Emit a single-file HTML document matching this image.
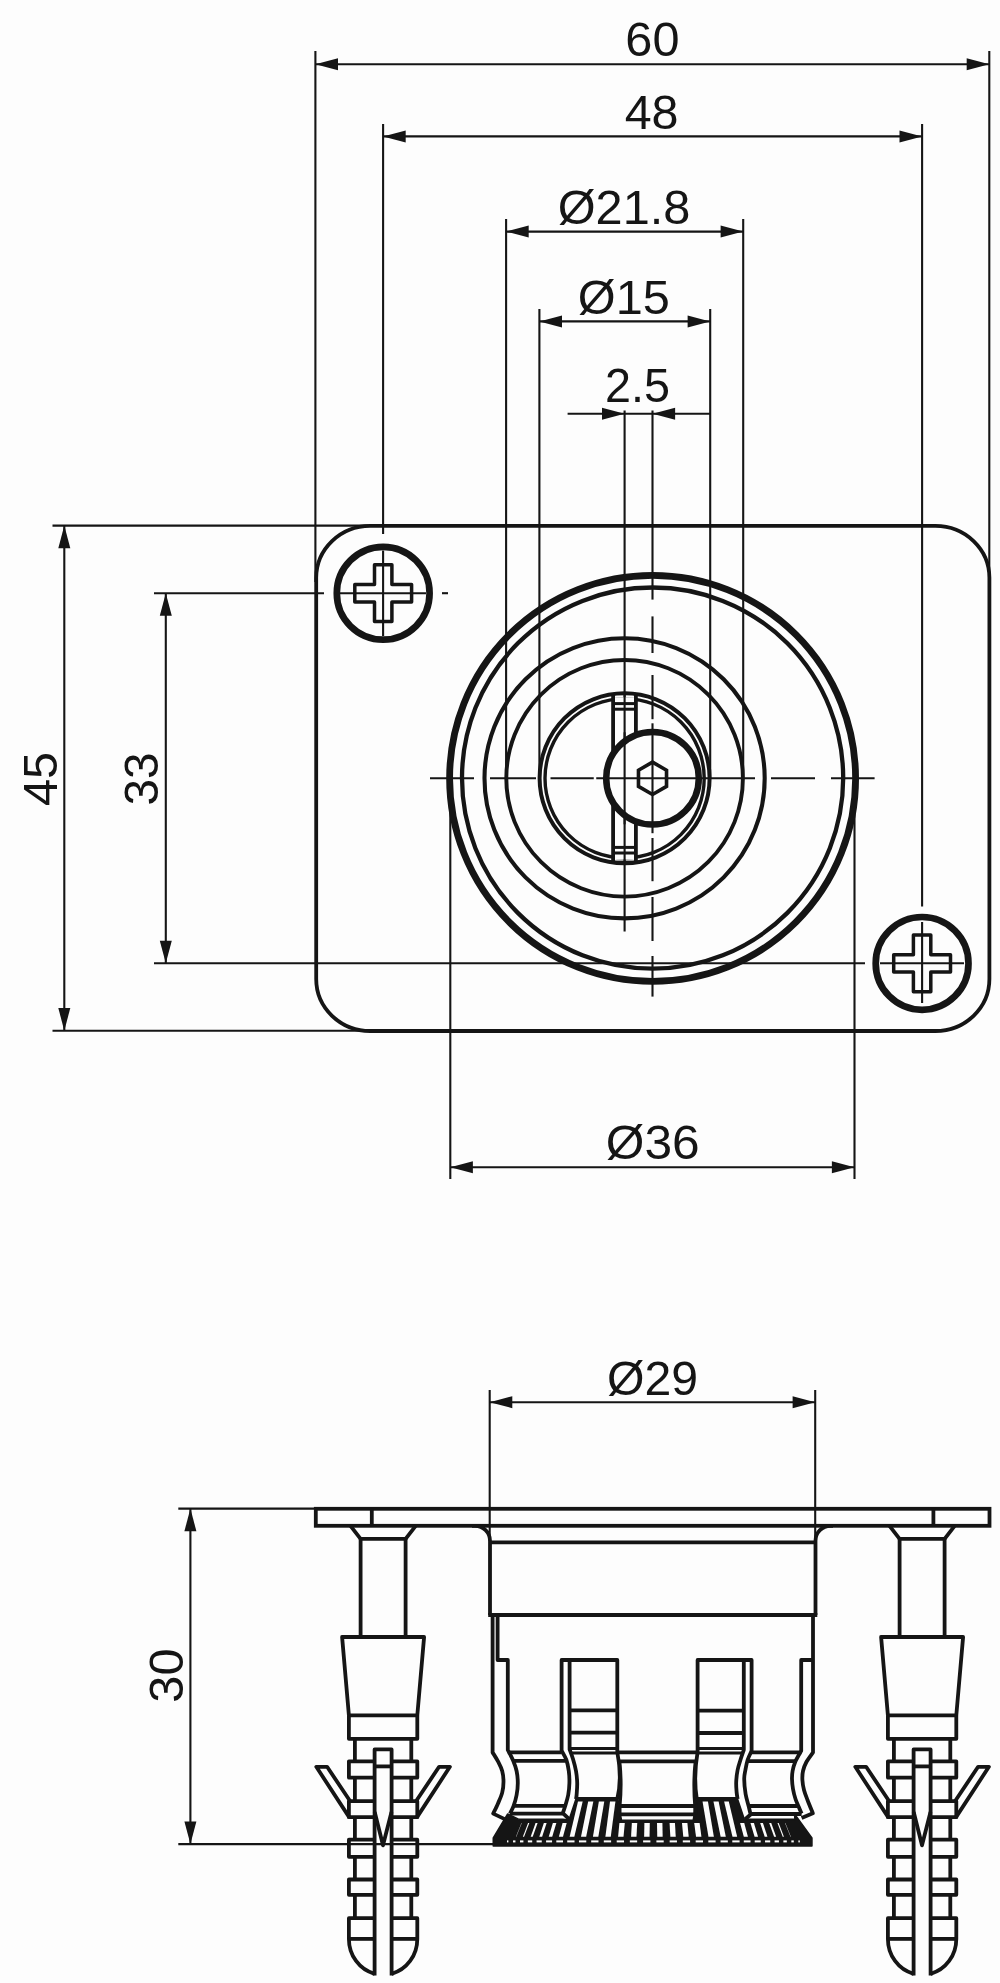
<!DOCTYPE html>
<html lang="en"><head><meta charset="utf-8"><title>Dimensional drawing</title>
<style>
html,body{margin:0;padding:0;background:#fdfdfd}
body{width:1000px;height:1983px;overflow:hidden}
svg{display:block}
svg text{font-family:"Liberation Sans",sans-serif;filter:grayscale(1)}
</style></head><body>
<svg width="1000" height="1983" viewBox="0 0 1000 1983" fill="none" stroke="#151515">
<rect x="0" y="0" width="1000" height="1983" fill="#fdfdfd" stroke="none"/>
<g id="top-view">
<line x1="315.4" y1="51" x2="315.4" y2="582" stroke-width="2.1"/>
<line x1="989.3" y1="51" x2="989.3" y2="582" stroke-width="2.1"/>
<line x1="383.1" y1="124" x2="383.1" y2="534" stroke-width="2.1"/>
<line x1="383.1" y1="550.5" x2="383.1" y2="636" stroke-width="2.1"/>
<line x1="922.1" y1="124" x2="922.1" y2="906.4" stroke-width="2.1"/>
<line x1="922.1" y1="922" x2="922.1" y2="1003" stroke-width="2.1"/>
<line x1="506.1" y1="219" x2="506.1" y2="778.3" stroke-width="2.1"/>
<line x1="743.2" y1="219" x2="743.2" y2="778.3" stroke-width="2.1"/>
<line x1="539.4" y1="309" x2="539.4" y2="778.3" stroke-width="2.1"/>
<line x1="710.2" y1="309" x2="710.2" y2="778.3" stroke-width="2.1"/>
<line x1="624.6" y1="410.5" x2="624.6" y2="931.6" stroke-width="2.1"/>
<line x1="652.5" y1="410.5" x2="652.5" y2="599.6" stroke-width="2.1"/>
<line x1="652.5" y1="616.4" x2="652.5" y2="653" stroke-width="2.1"/>
<line x1="652.5" y1="675" x2="652.5" y2="719.2" stroke-width="2.1"/>
<line x1="652.5" y1="723.3" x2="652.5" y2="833.2" stroke-width="2.1"/>
<line x1="652.5" y1="838" x2="652.5" y2="881.2" stroke-width="2.1"/>
<line x1="652.5" y1="897" x2="652.5" y2="941" stroke-width="2.1"/>
<line x1="652.5" y1="956" x2="652.5" y2="996.6" stroke-width="2.1"/>
<line x1="315.4" y1="64.2" x2="989.3" y2="64.2" stroke-width="2.1"/>
<polygon points="315.4,64.2 338,58.2 338,70.2" fill="#151515" stroke="none"/>
<polygon points="989.3,64.2 966.7,70.2 966.7,58.2" fill="#151515" stroke="none"/>
<line x1="383.1" y1="136.4" x2="922.1" y2="136.4" stroke-width="2.1"/>
<polygon points="383.1,136.4 405.7,130.4 405.7,142.4" fill="#151515" stroke="none"/>
<polygon points="922.1,136.4 899.5,142.4 899.5,130.4" fill="#151515" stroke="none"/>
<line x1="506.1" y1="231.6" x2="743.2" y2="231.6" stroke-width="2.1"/>
<polygon points="506.1,231.6 528.7,225.6 528.7,237.6" fill="#151515" stroke="none"/>
<polygon points="743.2,231.6 720.6,237.6 720.6,225.6" fill="#151515" stroke="none"/>
<line x1="539.4" y1="321.4" x2="710.2" y2="321.4" stroke-width="2.1"/>
<polygon points="539.4,321.4 562,315.4 562,327.4" fill="#151515" stroke="none"/>
<polygon points="710.2,321.4 687.6,327.4 687.6,315.4" fill="#151515" stroke="none"/>
<line x1="567.6" y1="413.8" x2="710.2" y2="413.8" stroke-width="2.1"/>
<polygon points="624.6,413.8 602,419.8 602,407.8" fill="#151515" stroke="none"/>
<polygon points="652.5,413.8 675.1,407.8 675.1,419.8" fill="#151515" stroke="none"/>
<line x1="430" y1="778.3" x2="474" y2="778.3" stroke-width="2.1"/>
<line x1="490" y1="778.3" x2="536" y2="778.3" stroke-width="2.1"/>
<line x1="550.5" y1="778.3" x2="593.75" y2="778.3" stroke-width="2.1"/>
<line x1="596.25" y1="778.3" x2="755" y2="778.3" stroke-width="2.1"/>
<line x1="771" y1="778.3" x2="815" y2="778.3" stroke-width="2.1"/>
<line x1="831" y1="778.3" x2="874.6" y2="778.3" stroke-width="2.1"/>
<line x1="154" y1="593.2" x2="324" y2="593.2" stroke-width="2.1"/>
<line x1="340" y1="593.2" x2="426" y2="593.2" stroke-width="2.1"/>
<line x1="442" y1="593.2" x2="448" y2="593.2" stroke-width="2.1"/>
<line x1="154" y1="963.3" x2="865" y2="963.3" stroke-width="2.1"/>
<line x1="880" y1="963.3" x2="964" y2="963.3" stroke-width="2.1"/>
<line x1="52.5" y1="525.6" x2="372" y2="525.6" stroke-width="2.1"/>
<line x1="52.5" y1="1030.7" x2="372" y2="1030.7" stroke-width="2.1"/>
<line x1="64.3" y1="525.6" x2="64.3" y2="1030.7" stroke-width="2.1"/>
<polygon points="64.3,525.6 70.3,548.2 58.3,548.2" fill="#151515" stroke="none"/>
<polygon points="64.3,1030.7 58.3,1008.1 70.3,1008.1" fill="#151515" stroke="none"/>
<line x1="165.8" y1="593.2" x2="165.8" y2="963.3" stroke-width="2.1"/>
<polygon points="165.8,593.2 171.8,615.8 159.8,615.8" fill="#151515" stroke="none"/>
<polygon points="165.8,963.3 159.8,940.7 171.8,940.7" fill="#151515" stroke="none"/>
<line x1="450.3" y1="778.3" x2="450.3" y2="1179" stroke-width="2.1"/>
<line x1="854.5" y1="778.3" x2="854.5" y2="1179" stroke-width="2.1"/>
<line x1="450.3" y1="1167.3" x2="854.5" y2="1167.3" stroke-width="2.1"/>
<polygon points="450.3,1167.3 472.9,1161.3 472.9,1173.3" fill="#151515" stroke="none"/>
<polygon points="854.5,1167.3 831.9,1173.3 831.9,1161.3" fill="#151515" stroke="none"/>
<rect x="316.2" y="525.8" width="673.2" height="505.2" rx="54" ry="52" stroke-width="3.8"/>
<circle cx="383.2" cy="593.2" r="46.4" stroke-width="6.7"/>
<path d="M374.5 564.8 L391.9 564.8 L391.9 584.5 L411.6 584.5 L411.6 601.9 L391.9 601.9 L391.9 621.6 L374.5 621.6 L374.5 601.9 L354.8 601.9 L354.8 584.5 L374.5 584.5 Z" stroke-width="3.5" fill="none" stroke-linejoin="round" stroke-linecap="butt"/>
<circle cx="922.1" cy="963.4" r="46.4" stroke-width="6.7"/>
<path d="M913.4 935 L930.8 935 L930.8 954.7 L950.5 954.7 L950.5 972.1 L930.8 972.1 L930.8 991.8 L913.4 991.8 L913.4 972.1 L893.7 972.1 L893.7 954.7 L913.4 954.7 Z" stroke-width="3.5" fill="none" stroke-linejoin="round" stroke-linecap="butt"/>
<circle cx="652.6" cy="778.4" r="203" stroke-width="6.8"/>
<circle cx="652.6" cy="778.1" r="190.6" stroke-width="4.3"/>
<circle cx="624.6" cy="778.3" r="140.1" stroke-width="4.1"/>
<circle cx="624.6" cy="778.3" r="118.3" stroke-width="3.9"/>
<circle cx="624.6" cy="778.3" r="85" stroke-width="4"/>
<circle cx="624.6" cy="778.3" r="79.6" stroke-width="3.4"/>
<rect x="613.1" y="697.2" width="22.8" height="162.2" fill="#fdfdfd" stroke="none"/>
<path d="M613.1 694.5 V862.3 M635.9 694.5 V862.3" stroke-width="3.8" fill="none" stroke-linejoin="miter" stroke-linecap="butt"/>
<line x1="624.6" y1="693" x2="624.6" y2="864" stroke-width="2.1"/>
<line x1="613.1" y1="703.6" x2="635.9" y2="703.6" stroke-width="3"/>
<line x1="613.1" y1="709.2" x2="635.9" y2="709.2" stroke-width="3"/>
<line x1="613.1" y1="853" x2="635.9" y2="853" stroke-width="3"/>
<line x1="613.1" y1="847.4" x2="635.9" y2="847.4" stroke-width="3"/>
<line x1="611.2" y1="862.3" x2="637.8" y2="862.3" stroke-width="3.4"/>
<circle cx="652.5" cy="778.3" r="46.3" stroke-width="6.5" fill="#fdfdfd"/>
<line x1="624.6" y1="732.3" x2="624.6" y2="824.3" stroke-width="2.1"/>
<line x1="652.5" y1="732.3" x2="652.5" y2="824.3" stroke-width="2.1"/>
<line x1="606" y1="778.3" x2="699" y2="778.3" stroke-width="2.1"/>
<path d="M652.5 762.1 L666.53 770.2 L666.53 786.4 L652.5 794.5 L638.47 786.4 L638.47 770.2 Z" stroke-width="3.6" fill="none" stroke-linejoin="miter" stroke-linecap="butt"/>
<text transform="translate(652.4 56.3) scale(1.01 1)" font-size="48.2" text-anchor="middle" fill="#151515" stroke="none">60</text>
<text transform="translate(651.6 129) scale(1.005 1)" font-size="48.2" text-anchor="middle" fill="#151515" stroke="none">48</text>
<text transform="translate(624 224.2) scale(1.01 1)" font-size="48.2" text-anchor="middle" fill="#151515" stroke="none">&#216;21.8</text>
<text transform="translate(623.8 314.2) scale(1.01 1)" font-size="48.2" text-anchor="middle" fill="#151515" stroke="none">&#216;15</text>
<text transform="translate(637.5 402) scale(1 1.0309)" font-size="46.75" text-anchor="middle" fill="#151515" stroke="none">2.5</text>
<text transform="translate(652.7 1159) scale(1.03 1)" font-size="48.2" text-anchor="middle" fill="#151515" stroke="none">&#216;36</text>
<text transform="translate(57.3 779) rotate(-90) scale(1.01 1)" font-size="48.2" text-anchor="middle" fill="#151515" stroke="none">45</text>
<text transform="translate(158.3 779) rotate(-90) scale(1 1.0101)" font-size="47.72" text-anchor="middle" fill="#151515" stroke="none">33</text>
</g>
<g id="side-view">
<line x1="178.3" y1="1508.6" x2="316" y2="1508.6" stroke-width="2.1"/>
<line x1="178.3" y1="1844.1" x2="497" y2="1844.1" stroke-width="2.1"/>
<line x1="190.4" y1="1508.6" x2="190.4" y2="1844.1" stroke-width="2.1"/>
<polygon points="190.4,1508.6 196.4,1531.2 184.4,1531.2" fill="#151515" stroke="none"/>
<polygon points="190.4,1844.1 184.4,1821.5 196.4,1821.5" fill="#151515" stroke="none"/>
<line x1="489.7" y1="1390" x2="489.7" y2="1541" stroke-width="2.1"/>
<line x1="815.2" y1="1390" x2="815.2" y2="1541" stroke-width="2.1"/>
<line x1="489.7" y1="1402.2" x2="815.2" y2="1402.2" stroke-width="2.1"/>
<polygon points="489.7,1402.2 512.3,1396.2 512.3,1408.2" fill="#151515" stroke="none"/>
<polygon points="815.2,1402.2 792.6,1408.2 792.6,1396.2" fill="#151515" stroke="none"/>
<text transform="translate(652.5 1395)" font-size="48.2" text-anchor="middle" fill="#151515" stroke="none">&#216;29</text>
<text transform="translate(183.3 1675.6) rotate(-90) scale(1.01 1)" font-size="48.2" text-anchor="middle" fill="#151515" stroke="none">30</text>
<polygon points="493.3,1838 507.7,1814 519,1819.4 563,1819.4 569,1820 576,1799 617.5,1799 621.5,1820.4 693.2,1820.4 697,1799 737.5,1799 744.5,1820 750,1819.4 795,1819.4 794.5,1814 811.9,1838 811.9,1846 493.3,1846" fill="#151515" stroke="#151515" stroke-width="1.6" stroke-linejoin="round"/>
<polygon points="657,1823 662.4,1823 662.66,1836.8 657.26,1836.8" fill="#fdfdfd" stroke="none"/>
<rect x="656.4" y="1840.4" width="7.3" height="2" fill="#fdfdfd" stroke="none"/>
<polygon points="644.4,1823 649.8,1823 649.54,1836.8 644.14,1836.8" fill="#fdfdfd" stroke="none"/>
<rect x="643.1" y="1840.4" width="7.3" height="2" fill="#fdfdfd" stroke="none"/>
<polygon points="669.56,1823 674.96,1823 675.74,1836.8 670.34,1836.8" fill="#fdfdfd" stroke="none"/>
<rect x="669.66" y="1840.4" width="7.3" height="2" fill="#fdfdfd" stroke="none"/>
<polygon points="631.84,1823 637.24,1823 636.46,1836.8 631.06,1836.8" fill="#fdfdfd" stroke="none"/>
<rect x="629.84" y="1840.4" width="7.3" height="2" fill="#fdfdfd" stroke="none"/>
<polygon points="681.99,1823 687.39,1823 688.7,1836.8 683.3,1836.8" fill="#fdfdfd" stroke="none"/>
<rect x="682.79" y="1840.4" width="7.3" height="2" fill="#fdfdfd" stroke="none"/>
<polygon points="619.41,1823 624.81,1823 623.5,1836.8 618.1,1836.8" fill="#fdfdfd" stroke="none"/>
<rect x="616.71" y="1840.4" width="7.3" height="2" fill="#fdfdfd" stroke="none"/>
<polygon points="694.21,1823 699.61,1823 701.43,1836.8 696.03,1836.8" fill="#fdfdfd" stroke="none"/>
<rect x="695.7" y="1840.4" width="7.3" height="2" fill="#fdfdfd" stroke="none"/>
<polygon points="610.02,1801.5 615.42,1801.5 610.77,1836.8 605.37,1836.8" fill="#fdfdfd" stroke="none"/>
<rect x="603.8" y="1840.4" width="7.3" height="2" fill="#fdfdfd" stroke="none"/>
<polygon points="702.54,1801.5 707.94,1801.5 713.87,1836.8 708.47,1836.8" fill="#fdfdfd" stroke="none"/>
<rect x="708.31" y="1840.4" width="7.3" height="2" fill="#fdfdfd" stroke="none"/>
<polygon points="598.86,1801.5 604.26,1801.5 598.33,1836.8 592.93,1836.8" fill="#fdfdfd" stroke="none"/>
<rect x="591.19" y="1840.4" width="7.3" height="2" fill="#fdfdfd" stroke="none"/>
<polygon points="713.47,1801.5 718.63,1801.5 725.81,1836.8 720.64,1836.8" fill="#fdfdfd" stroke="none"/>
<rect x="720.53" y="1840.4" width="7.3" height="2" fill="#fdfdfd" stroke="none"/>
<polygon points="588.17,1801.5 593.33,1801.5 586.16,1836.8 580.99,1836.8" fill="#fdfdfd" stroke="none"/>
<rect x="578.97" y="1840.4" width="7.3" height="2" fill="#fdfdfd" stroke="none"/>
<polygon points="724.12,1801.5 728.79,1801.5 737.16,1836.8 732.48,1836.8" fill="#fdfdfd" stroke="none"/>
<rect x="732.28" y="1840.4" width="7.3" height="2" fill="#fdfdfd" stroke="none"/>
<polygon points="578.01,1801.5 582.68,1801.5 574.32,1836.8 569.64,1836.8" fill="#fdfdfd" stroke="none"/>
<rect x="567.22" y="1840.4" width="7.3" height="2" fill="#fdfdfd" stroke="none"/>
<polygon points="740.11,1823 744.22,1823 747.93,1836.8 743.82,1836.8" fill="#fdfdfd" stroke="none"/>
<rect x="743.79" y="1840.4" width="6.71" height="2" fill="#fdfdfd" stroke="none"/>
<polygon points="562.58,1823 566.69,1823 562.98,1836.8 558.87,1836.8" fill="#fdfdfd" stroke="none"/>
<rect x="556.3" y="1840.4" width="6.71" height="2" fill="#fdfdfd" stroke="none"/>
<polygon points="750.45,1823 753.93,1823 758.06,1836.8 754.58,1836.8" fill="#fdfdfd" stroke="none"/>
<rect x="754.73" y="1840.4" width="5.99" height="2" fill="#fdfdfd" stroke="none"/>
<polygon points="552.87,1823 556.35,1823 552.22,1836.8 548.74,1836.8" fill="#fdfdfd" stroke="none"/>
<rect x="546.07" y="1840.4" width="5.99" height="2" fill="#fdfdfd" stroke="none"/>
<polygon points="760.17,1823 762.95,1823 767.48,1836.8 764.7,1836.8" fill="#fdfdfd" stroke="none"/>
<rect x="765.03" y="1840.4" width="5.2" height="2" fill="#fdfdfd" stroke="none"/>
<polygon points="543.85,1823 546.63,1823 542.1,1836.8 539.32,1836.8" fill="#fdfdfd" stroke="none"/>
<rect x="536.57" y="1840.4" width="5.2" height="2" fill="#fdfdfd" stroke="none"/>
<polygon points="769.21,1823 771.23,1823 776.12,1836.8 774.1,1836.8" fill="#fdfdfd" stroke="none"/>
<rect x="774.6" y="1840.4" width="4.34" height="2" fill="#fdfdfd" stroke="none"/>
<polygon points="535.57,1823 537.59,1823 532.7,1836.8 530.68,1836.8" fill="#fdfdfd" stroke="none"/>
<rect x="527.86" y="1840.4" width="4.34" height="2" fill="#fdfdfd" stroke="none"/>
<polygon points="777.5,1823 778.71,1823 783.93,1836.8 782.72,1836.8" fill="#fdfdfd" stroke="none"/>
<rect x="783.4" y="1840.4" width="3.41" height="2" fill="#fdfdfd" stroke="none"/>
<polygon points="528.09,1823 529.3,1823 524.08,1836.8 522.87,1836.8" fill="#fdfdfd" stroke="none"/>
<rect x="519.99" y="1840.4" width="3.41" height="2" fill="#fdfdfd" stroke="none"/>
<polygon points="785,1823 785.34,1823 790.86,1836.8 790.51,1836.8" fill="#fdfdfd" stroke="none"/>
<rect x="791.35" y="1840.4" width="2.43" height="2" fill="#fdfdfd" stroke="none"/>
<polygon points="521.46,1823 521.8,1823 516.29,1836.8 515.94,1836.8" fill="#fdfdfd" stroke="none"/>
<rect x="513.02" y="1840.4" width="2.43" height="2" fill="#fdfdfd" stroke="none"/>
<rect x="798.4" y="1840.4" width="1.4" height="2" fill="#fdfdfd" stroke="none"/>
<rect x="507" y="1840.4" width="1.4" height="2" fill="#fdfdfd" stroke="none"/>
<rect x="315.8" y="1508.8" width="673.7" height="17" stroke-width="3.8"/>
<line x1="371.8" y1="1508.8" x2="371.8" y2="1525.8" stroke-width="3.8"/>
<line x1="933.4" y1="1508.8" x2="933.4" y2="1525.8" stroke-width="3.8"/>
<path d="M350.5 1525.8 L360.6 1538.8 L405.6 1538.8 L415.7 1525.8" stroke-width="3.8" fill="none" stroke-linejoin="miter" stroke-linecap="butt"/>
<line x1="360.6" y1="1538.8" x2="360.6" y2="1637" stroke-width="3.8"/>
<line x1="405.6" y1="1538.8" x2="405.6" y2="1637" stroke-width="3.8"/>
<path d="M342.1 1637 L424.1 1637 L417.3 1715.4 L348.9 1715.4 Z" stroke-width="3.8" fill="none" stroke-linejoin="round" stroke-linecap="butt"/>
<path d="M348.9 1715.4 L348.9 1738.8 L417.3 1738.8 L417.3 1715.4" stroke-width="3.8" fill="none" stroke-linejoin="round" stroke-linecap="butt"/>
<line x1="354.9" y1="1738.8" x2="354.9" y2="1761.3" stroke-width="3.8"/>
<line x1="411.3" y1="1738.8" x2="411.3" y2="1761.3" stroke-width="3.8"/>
<line x1="354.9" y1="1777.6" x2="354.9" y2="1801.2" stroke-width="3.8"/>
<line x1="411.3" y1="1777.6" x2="411.3" y2="1801.2" stroke-width="3.8"/>
<line x1="354.9" y1="1817.2" x2="354.9" y2="1839.7" stroke-width="3.8"/>
<line x1="411.3" y1="1817.2" x2="411.3" y2="1839.7" stroke-width="3.8"/>
<line x1="354.9" y1="1856.8" x2="354.9" y2="1879.5" stroke-width="3.8"/>
<line x1="411.3" y1="1856.8" x2="411.3" y2="1879.5" stroke-width="3.8"/>
<line x1="354.9" y1="1894.8" x2="354.9" y2="1918.2" stroke-width="3.8"/>
<line x1="411.3" y1="1894.8" x2="411.3" y2="1918.2" stroke-width="3.8"/>
<path d="M374.6 1761.3 L348.9 1761.3 L348.9 1777.6 L374.6 1777.6" stroke-width="3.8" fill="none" stroke-linejoin="round" stroke-linecap="butt"/>
<path d="M391.6 1761.3 L417.3 1761.3 L417.3 1777.6 L391.6 1777.6" stroke-width="3.8" fill="none" stroke-linejoin="round" stroke-linecap="butt"/>
<path d="M374.6 1801.2 L348.9 1801.2 L348.9 1817.2 L374.6 1817.2" stroke-width="3.8" fill="none" stroke-linejoin="round" stroke-linecap="butt"/>
<path d="M391.6 1801.2 L417.3 1801.2 L417.3 1817.2 L391.6 1817.2" stroke-width="3.8" fill="none" stroke-linejoin="round" stroke-linecap="butt"/>
<path d="M374.6 1839.7 L348.9 1839.7 L348.9 1856.8 L374.6 1856.8" stroke-width="3.8" fill="none" stroke-linejoin="round" stroke-linecap="butt"/>
<path d="M391.6 1839.7 L417.3 1839.7 L417.3 1856.8 L391.6 1856.8" stroke-width="3.8" fill="none" stroke-linejoin="round" stroke-linecap="butt"/>
<path d="M374.6 1879.5 L348.9 1879.5 L348.9 1894.8 L374.6 1894.8" stroke-width="3.8" fill="none" stroke-linejoin="round" stroke-linecap="butt"/>
<path d="M391.6 1879.5 L417.3 1879.5 L417.3 1894.8 L391.6 1894.8" stroke-width="3.8" fill="none" stroke-linejoin="round" stroke-linecap="butt"/>
<path d="M374.6 1918.2 H348.9 V1938.9 A34.2 36 0 0 0 374.6 1973.8" stroke-width="3.8" fill="none" stroke-linejoin="round" stroke-linecap="butt"/>
<line x1="348.9" y1="1938.9" x2="374.6" y2="1938.9" stroke-width="3.8"/>
<path d="M391.6 1918.2 H417.3 V1938.9 A34.2 36 0 0 1 391.6 1973.8" stroke-width="3.8" fill="none" stroke-linejoin="round" stroke-linecap="butt"/>
<line x1="391.6" y1="1938.9" x2="417.3" y2="1938.9" stroke-width="3.8"/>
<path d="M374.6 1975.5 L374.6 1749.4 L391.6 1749.4 L391.6 1975.5" stroke-width="3.8" fill="none" stroke-linejoin="round" stroke-linecap="butt"/>
<line x1="374.6" y1="1766.4" x2="391.6" y2="1766.4" stroke-width="3.8"/>
<path d="M374.7 1812 L383 1845.3 L391.5 1812" stroke-width="3.8" fill="none" stroke-linejoin="round" stroke-linecap="butt"/>
<path d="M349.3 1817.4 L316.3 1766.8 L327.1 1766.8 L350.7 1802" stroke-width="3.8" fill="none" stroke-linejoin="round" stroke-linecap="butt"/>
<path d="M416.9 1817.4 L449.9 1766.8 L439.1 1766.8 L415.5 1802" stroke-width="3.8" fill="none" stroke-linejoin="round" stroke-linecap="butt"/>
<path d="M889.5 1525.8 L899.6 1538.8 L944.6 1538.8 L954.7 1525.8" stroke-width="3.8" fill="none" stroke-linejoin="miter" stroke-linecap="butt"/>
<line x1="899.6" y1="1538.8" x2="899.6" y2="1637" stroke-width="3.8"/>
<line x1="944.6" y1="1538.8" x2="944.6" y2="1637" stroke-width="3.8"/>
<path d="M881.1 1637 L963.1 1637 L956.3 1715.4 L887.9 1715.4 Z" stroke-width="3.8" fill="none" stroke-linejoin="round" stroke-linecap="butt"/>
<path d="M887.9 1715.4 L887.9 1738.8 L956.3 1738.8 L956.3 1715.4" stroke-width="3.8" fill="none" stroke-linejoin="round" stroke-linecap="butt"/>
<line x1="893.9" y1="1738.8" x2="893.9" y2="1761.3" stroke-width="3.8"/>
<line x1="950.3" y1="1738.8" x2="950.3" y2="1761.3" stroke-width="3.8"/>
<line x1="893.9" y1="1777.6" x2="893.9" y2="1801.2" stroke-width="3.8"/>
<line x1="950.3" y1="1777.6" x2="950.3" y2="1801.2" stroke-width="3.8"/>
<line x1="893.9" y1="1817.2" x2="893.9" y2="1839.7" stroke-width="3.8"/>
<line x1="950.3" y1="1817.2" x2="950.3" y2="1839.7" stroke-width="3.8"/>
<line x1="893.9" y1="1856.8" x2="893.9" y2="1879.5" stroke-width="3.8"/>
<line x1="950.3" y1="1856.8" x2="950.3" y2="1879.5" stroke-width="3.8"/>
<line x1="893.9" y1="1894.8" x2="893.9" y2="1918.2" stroke-width="3.8"/>
<line x1="950.3" y1="1894.8" x2="950.3" y2="1918.2" stroke-width="3.8"/>
<path d="M913.6 1761.3 L887.9 1761.3 L887.9 1777.6 L913.6 1777.6" stroke-width="3.8" fill="none" stroke-linejoin="round" stroke-linecap="butt"/>
<path d="M930.6 1761.3 L956.3 1761.3 L956.3 1777.6 L930.6 1777.6" stroke-width="3.8" fill="none" stroke-linejoin="round" stroke-linecap="butt"/>
<path d="M913.6 1801.2 L887.9 1801.2 L887.9 1817.2 L913.6 1817.2" stroke-width="3.8" fill="none" stroke-linejoin="round" stroke-linecap="butt"/>
<path d="M930.6 1801.2 L956.3 1801.2 L956.3 1817.2 L930.6 1817.2" stroke-width="3.8" fill="none" stroke-linejoin="round" stroke-linecap="butt"/>
<path d="M913.6 1839.7 L887.9 1839.7 L887.9 1856.8 L913.6 1856.8" stroke-width="3.8" fill="none" stroke-linejoin="round" stroke-linecap="butt"/>
<path d="M930.6 1839.7 L956.3 1839.7 L956.3 1856.8 L930.6 1856.8" stroke-width="3.8" fill="none" stroke-linejoin="round" stroke-linecap="butt"/>
<path d="M913.6 1879.5 L887.9 1879.5 L887.9 1894.8 L913.6 1894.8" stroke-width="3.8" fill="none" stroke-linejoin="round" stroke-linecap="butt"/>
<path d="M930.6 1879.5 L956.3 1879.5 L956.3 1894.8 L930.6 1894.8" stroke-width="3.8" fill="none" stroke-linejoin="round" stroke-linecap="butt"/>
<path d="M913.6 1918.2 H887.9 V1938.9 A34.2 36 0 0 0 913.6 1973.8" stroke-width="3.8" fill="none" stroke-linejoin="round" stroke-linecap="butt"/>
<line x1="887.9" y1="1938.9" x2="913.6" y2="1938.9" stroke-width="3.8"/>
<path d="M930.6 1918.2 H956.3 V1938.9 A34.2 36 0 0 1 930.6 1973.8" stroke-width="3.8" fill="none" stroke-linejoin="round" stroke-linecap="butt"/>
<line x1="930.6" y1="1938.9" x2="956.3" y2="1938.9" stroke-width="3.8"/>
<path d="M913.6 1975.5 L913.6 1749.4 L930.6 1749.4 L930.6 1975.5" stroke-width="3.8" fill="none" stroke-linejoin="round" stroke-linecap="butt"/>
<line x1="913.6" y1="1766.4" x2="930.6" y2="1766.4" stroke-width="3.8"/>
<path d="M913.7 1812 L922 1845.3 L930.5 1812" stroke-width="3.8" fill="none" stroke-linejoin="round" stroke-linecap="butt"/>
<path d="M888.3 1817.4 L855.3 1766.8 L866.1 1766.8 L889.7 1802" stroke-width="3.8" fill="none" stroke-linejoin="round" stroke-linecap="butt"/>
<path d="M955.9 1817.4 L988.9 1766.8 L978.1 1766.8 L954.5 1802" stroke-width="3.8" fill="none" stroke-linejoin="round" stroke-linecap="butt"/>
<path d="M472 1525.8 H475 A15 15 0 0 1 490 1540.8 V1615" stroke-width="3.8" fill="none" stroke-linejoin="miter" stroke-linecap="butt"/>
<path d="M833 1525.8 H830.5 A15 15 0 0 0 815.5 1540.8 V1615" stroke-width="3.8" fill="none" stroke-linejoin="miter" stroke-linecap="butt"/>
<line x1="490" y1="1542.4" x2="815.5" y2="1542.4" stroke-width="3.8"/>
<line x1="488.2" y1="1615" x2="817.3" y2="1615" stroke-width="3.8"/>
<path d="M492.6 1615 L492.6 1752.4 C493.5 1753.9 496.4 1758.3 498 1761.4 C499.6 1764.5 501.28 1767.6 502.2 1771 C503.12 1774.4 503.5 1778.2 503.5 1781.8 C503.5 1785.4 503.12 1789 502.2 1792.6 C501.28 1796.2 499.5 1799.9 498 1803.4 C496.5 1806.9 494 1811.9 493.2 1813.6 L505.8 1819.6" stroke-width="3.8" fill="none" stroke-linejoin="round" stroke-linecap="butt"/>
<path d="M813 1615 L813 1752.4 C811.9 1754 808.07 1758.9 806.4 1762 C804.73 1765.1 803.67 1768 803 1771 C802.33 1774 802.23 1776.83 802.4 1780 C802.57 1783.17 803.15 1786.67 804 1790 C804.85 1793.33 806.03 1796.13 807.5 1800 C808.97 1803.87 811.92 1811 812.8 1813.2 L801.6 1818" stroke-width="3.8" fill="none" stroke-linejoin="round" stroke-linecap="butt"/>
<path d="M497.6 1615 V1660 H507.8 L507.8 1750 C508.67 1751.7 511.53 1756.7 513 1760.2 C514.47 1763.7 515.8 1767.2 516.6 1771 C517.4 1774.8 517.8 1779 517.8 1783 C517.8 1787 517.3 1791.2 516.6 1795 C515.9 1798.8 514.7 1802.7 513.6 1805.8 C512.5 1808.9 510.6 1812.3 510 1813.6" stroke-width="3.8" fill="none" stroke-linejoin="round" stroke-linecap="butt"/>
<path d="M813 1660 H801.2 L801.2 1750.8 C800.2 1752.67 796.63 1758.63 795.2 1762 C793.77 1765.37 793.13 1768.17 792.6 1771 C792.07 1773.83 791.93 1776 792 1779 C792.07 1782 792.42 1785.67 793 1789 C793.58 1792.33 794.47 1795.83 795.5 1799 C796.53 1802.17 798.18 1805.57 799.2 1808 C800.22 1810.43 801.2 1812.67 801.6 1813.6" stroke-width="3.8" fill="none" stroke-linejoin="round" stroke-linecap="butt"/>
<line x1="507.8" y1="1752.4" x2="561.6" y2="1752.4" stroke-width="3.8"/>
<line x1="513.4" y1="1760.8" x2="565.6" y2="1760.8" stroke-width="3.8"/>
<line x1="513.8" y1="1805.8" x2="565" y2="1805.8" stroke-width="3.8"/>
<line x1="510" y1="1813.6" x2="562.8" y2="1813.6" stroke-width="3.8"/>
<line x1="751" y1="1752.4" x2="801.4" y2="1752.4" stroke-width="3.8"/>
<line x1="747.5" y1="1761.2" x2="795.6" y2="1761.2" stroke-width="3.8"/>
<line x1="748.6" y1="1806" x2="797.5" y2="1806" stroke-width="3.8"/>
<line x1="750.4" y1="1814" x2="801.6" y2="1814" stroke-width="3.8"/>
<path d="M617.3 1799 C620.6 1785 620.4 1768 617.3 1752 V1660 H561.6 L561.6 1750.6 C562.4 1752.17 565.2 1756.6 566.4 1760 C567.6 1763.4 568.3 1767.17 568.8 1771 C569.3 1774.83 569.5 1779 569.4 1783 C569.3 1787 568.9 1791.17 568.2 1795 C567.5 1798.83 566.1 1802.97 565.2 1806 C564.3 1809.03 563.2 1812 562.8 1813.2 L569.5 1819.5" stroke-width="3.8" fill="none" stroke-linejoin="round" stroke-linecap="butt"/>
<path d="M569.6 1660 L569.6 1749.4 C570.17 1751 571.93 1755.4 573 1759 C574.07 1762.6 575.3 1767 576 1771 C576.7 1775 577.1 1779 577.2 1783 C577.3 1787 576.8 1792.33 576.6 1795 C576.4 1797.67 576.1 1798.33 576 1799" stroke-width="3.8" fill="none" stroke-linejoin="round" stroke-linecap="butt"/>
<line x1="569.6" y1="1710.4" x2="617.3" y2="1710.4" stroke-width="3.8"/>
<line x1="569.6" y1="1732.6" x2="617.3" y2="1732.6" stroke-width="3.8"/>
<line x1="569.6" y1="1748.6" x2="617.3" y2="1748.6" stroke-width="3"/>
<line x1="571.5" y1="1753" x2="617.3" y2="1753" stroke-width="3"/>
<line x1="576" y1="1799" x2="617.3" y2="1799" stroke-width="3.8"/>
<path d="M696.8 1799 C694.6 1785 694.8 1768 697.6 1752 V1660 H751.6 L751.6 1750.8 C750.93 1752.33 748.63 1756.8 747.6 1760 C746.57 1763.2 745.97 1766.83 745.4 1770 C744.83 1773.17 744.17 1775 744.2 1779 C744.23 1783 744.83 1789.37 745.6 1794 C746.37 1798.63 747.97 1803.38 748.8 1806.8 C749.63 1810.22 750.3 1813.22 750.6 1814.5 L745 1819.5" stroke-width="3.8" fill="none" stroke-linejoin="round" stroke-linecap="butt"/>
<path d="M743.8 1660 L743.8 1750 C743.3 1751.47 741.83 1755.47 740.8 1758.8 C739.77 1762.13 738.37 1766.13 737.6 1770 C736.83 1773.87 736.37 1778.33 736.2 1782 C736.03 1785.67 736.37 1789.17 736.6 1792 C736.83 1794.83 737.43 1797.83 737.6 1799" stroke-width="3.8" fill="none" stroke-linejoin="round" stroke-linecap="butt"/>
<line x1="697.6" y1="1710.6" x2="743.8" y2="1710.6" stroke-width="3.8"/>
<line x1="697.6" y1="1733" x2="743.8" y2="1733" stroke-width="3.8"/>
<line x1="697.6" y1="1748.6" x2="743.8" y2="1748.6" stroke-width="3"/>
<line x1="697.6" y1="1753" x2="742.5" y2="1753" stroke-width="3"/>
<line x1="696.8" y1="1799" x2="737.6" y2="1799" stroke-width="3.8"/>
<line x1="617.3" y1="1752.4" x2="697.6" y2="1752.4" stroke-width="3.8"/>
<line x1="619.4" y1="1761.4" x2="695.6" y2="1761.4" stroke-width="3.8"/>
<path d="M619.4 1761.4 C621 1776 621 1792 619.6 1806 V1814.3" stroke-width="3.8" fill="none" stroke-linejoin="miter" stroke-linecap="butt"/>
<path d="M695.6 1761.4 C694 1776 694 1792 695.2 1806 V1814.3" stroke-width="3.8" fill="none" stroke-linejoin="miter" stroke-linecap="butt"/>
<line x1="619.6" y1="1806" x2="695.2" y2="1806" stroke-width="3.8"/>
<line x1="619.6" y1="1814.3" x2="695.2" y2="1814.3" stroke-width="3.8"/>
</g>
</svg>
</body></html>
